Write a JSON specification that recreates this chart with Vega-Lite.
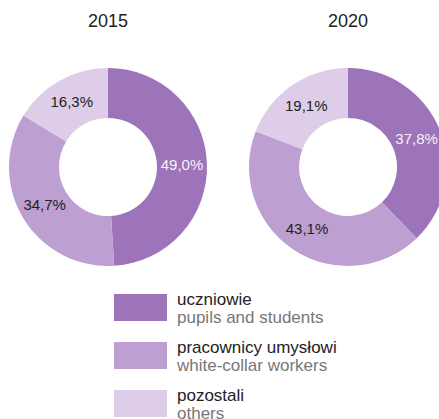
{
  "$schema": "https://vega.github.io/schema/vega-lite/v6.json",
  "padding": {"top": 13, "left": 0, "right": 0, "bottom": 0},
  "config": {
    "view": {"stroke": null},
    "font": "Liberation Sans",
    "locale": {"number": {"decimal": ",", "thousands": " ", "grouping": [3], "currency": ["", " zł"]}}
  },
  "datasets": {
    "shares": [
      {"year": "2015", "cat": "uczniowie", "en": "pupils and students", "value": 0.490},
      {"year": "2015", "cat": "pracownicy umysłowi", "en": "white-collar workers", "value": 0.347},
      {"year": "2015", "cat": "pozostali", "en": "others", "value": 0.163},
      {"year": "2020", "cat": "uczniowie", "en": "pupils and students", "value": 0.378},
      {"year": "2020", "cat": "pracownicy umysłowi", "en": "white-collar workers", "value": 0.431},
      {"year": "2020", "cat": "pozostali", "en": "others", "value": 0.191}
    ]
  },
  "vconcat": [
    {
      "data": {"name": "shares"},
      "facet": {
        "column": {
          "field": "year", "type": "ordinal",
          "header": {"title": null, "labelFontSize": 18, "labelColor": "#222", "labelFont": "Liberation Sans", "labelBaseline": "alphabetic", "labelPadding": 22}
        }
      },
      "spacing": 24,
      "spec": {
        "width": 216,
        "height": 200,
        "layer": [
          {
            "mark": {"type": "arc", "radius": 99, "innerRadius": 49},
            "encoding": {
              "theta": {"field": "value", "type": "quantitative", "stack": true},
              "color": {
                "field": "cat", "type": "nominal", "legend": null,
                "scale": {"domain": ["uczniowie", "pracownicy umysłowi", "pozostali"], "range": ["#9d73b9", "#bd9fd1", "#ddcde8"]}
              },
              "order": {"field": "cat", "sort": "descending"}
            }
          },
          {
            "mark": {"type": "text", "radius": 74, "fontSize": 15, "font": "Liberation Sans"},
            "encoding": {
              "theta": {"field": "value", "type": "quantitative", "stack": true},
              "detail": {"field": "cat"},
              "order": {"field": "cat", "sort": "descending"},
              "text": {"field": "value", "type": "quantitative", "format": ".1%"},
              "color": {"condition": {"test": "datum.cat === 'uczniowie'", "value": "#f4f4f4"}, "value": "#222222"}
            }
          }
        ]
      }
    },
    {
      "data": {"name": "shares"},
      "transform": [{"filter": "datum.year == '2015'"}],
      "spacing": 10,
      "resolve": {"scale": {"y": "independent"}},
      "hconcat": [
        {
          "width": 53,
          "height": 123,
          "mark": "rect",
          "encoding": {
            "y": {"field": "cat", "type": "nominal", "sort": ["uczniowie", "pracownicy umysłowi", "pozostali"], "axis": null, "scale": {"type": "band", "paddingInner": 0.4375, "paddingOuter": 0}},
            "color": {"field": "cat", "type": "nominal", "legend": null}
          }
        },
        {
          "width": 165,
          "height": 123,
          "encoding": {
            "y": {"field": "cat", "type": "nominal", "sort": ["uczniowie", "pracownicy umysłowi", "pozostali"], "axis": null, "scale": {"type": "band", "paddingInner": 0.4375, "paddingOuter": 0}},
            "x": {"value": 0}
          },
          "layer": [
            {
              "mark": {"type": "text", "align": "left", "baseline": "alphabetic", "dy": -3, "fontSize": 17, "color": "#222222"},
              "encoding": {"text": {"field": "cat"}}
            },
            {
              "mark": {"type": "text", "align": "left", "baseline": "alphabetic", "dy": 15.5, "fontSize": 17, "color": "#777777"},
              "encoding": {"text": {"field": "en"}}
            }
          ]
        }
      ]
    }
  ],
  "center": true,
  "spacing": 23
}
